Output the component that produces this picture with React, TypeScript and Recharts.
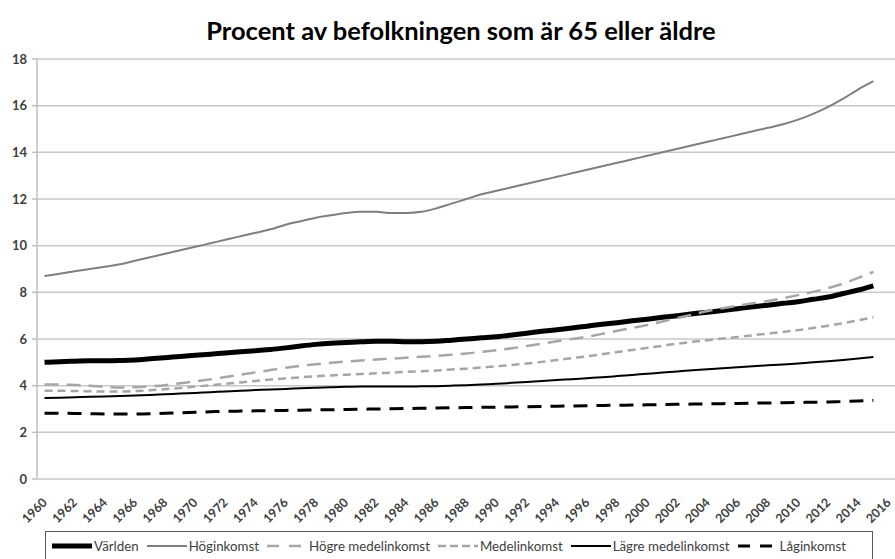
import { LineChart, Line, XAxis, YAxis, CartesianGrid } from 'recharts'

const years = [
  1960, 1961, 1962, 1963, 1964, 1965, 1966, 1967, 1968, 1969,
  1970, 1971, 1972, 1973, 1974, 1975, 1976, 1977, 1978, 1979,
  1980, 1981, 1982, 1983, 1984, 1985, 1986, 1987, 1988, 1989,
  1990, 1991, 1992, 1993, 1994, 1995, 1996, 1997, 1998, 1999,
  2000, 2001, 2002, 2003, 2004, 2005, 2006, 2007, 2008, 2009,
  2010, 2011, 2012, 2013, 2014, 2015, 2016,
]

const yearLabels = [
  1960, 1962, 1964, 1966, 1968, 1970, 1972, 1974, 1976, 1978, 1980, 1982, 1984, 1986,
  1988, 1990, 1992, 1994, 1996, 1998, 2000, 2002, 2004, 2006, 2008, 2010, 2012, 2014, 2016,
]

const yTicks = [0, 2, 4, 6, 8, 10, 12, 14, 16, 18]

// 1960-2015, no value for 2016
const varlden = [
  5.0, 5.03, 5.05, 5.07, 5.07, 5.08, 5.1, 5.15, 5.2, 5.25,
  5.3, 5.35, 5.4, 5.45, 5.5, 5.55, 5.62, 5.7, 5.77, 5.82,
  5.85, 5.88, 5.9, 5.9, 5.88, 5.88, 5.9, 5.95, 6.0, 6.05,
  6.1, 6.17, 6.25, 6.33, 6.4, 6.47, 6.55, 6.63, 6.7, 6.78,
  6.85, 6.93, 7.0, 7.08, 7.15, 7.22, 7.3, 7.38, 7.45, 7.53,
  7.6, 7.7, 7.8, 7.95, 8.1, 8.28,
]
const hoginkomst = [
  8.7, 8.8, 8.9, 9.0, 9.1, 9.2, 9.35, 9.5, 9.65, 9.8,
  9.95, 10.1, 10.25, 10.4, 10.55, 10.7, 10.9, 11.05, 11.2, 11.3,
  11.4, 11.45, 11.45, 11.4, 11.4, 11.45, 11.6, 11.8, 12.0, 12.2,
  12.35, 12.5, 12.65, 12.8, 12.95, 13.1, 13.25, 13.4, 13.55, 13.7,
  13.85, 14.0, 14.15, 14.3, 14.45, 14.6, 14.75, 14.9, 15.05, 15.2,
  15.4, 15.65, 15.95, 16.3, 16.7, 17.05,
]
const hogreMedel = [
  4.05, 4.05, 4.03, 4.0, 3.95, 3.92, 3.93, 3.97, 4.02, 4.1,
  4.18, 4.27, 4.37, 4.47, 4.57, 4.67, 4.77, 4.85, 4.92, 4.98,
  5.03, 5.08, 5.12, 5.16, 5.2, 5.24, 5.28, 5.33, 5.38, 5.45,
  5.52, 5.6, 5.7, 5.8, 5.9, 6.0, 6.1, 6.22, 6.35, 6.48,
  6.6, 6.75, 6.9, 7.05, 7.2, 7.32, 7.43, 7.53, 7.63, 7.75,
  7.88, 8.02, 8.18, 8.38, 8.62, 8.88,
]
const medel = [
  3.78, 3.78, 3.77, 3.76, 3.75, 3.75, 3.77, 3.8, 3.85, 3.9,
  3.96, 4.02, 4.08, 4.14, 4.2, 4.26, 4.31, 4.36, 4.4, 4.44,
  4.47, 4.5, 4.53, 4.56, 4.59, 4.62, 4.65, 4.69, 4.73, 4.78,
  4.83, 4.89, 4.95, 5.02, 5.1, 5.18, 5.26, 5.35, 5.44, 5.53,
  5.62, 5.71, 5.8, 5.88, 5.95, 6.02, 6.09, 6.16, 6.23, 6.3,
  6.38, 6.47, 6.57, 6.68, 6.8, 6.93,
]
const lagreMedel = [
  3.47, 3.48, 3.5, 3.52, 3.54, 3.56, 3.58, 3.6, 3.63, 3.66,
  3.69, 3.72, 3.75, 3.78, 3.81, 3.84, 3.86, 3.89, 3.91, 3.93,
  3.95, 3.96, 3.96, 3.96, 3.96, 3.97, 3.98, 4.0, 4.02, 4.05,
  4.08, 4.12, 4.16, 4.2, 4.24, 4.28, 4.32, 4.36, 4.41, 4.46,
  4.51, 4.56, 4.61, 4.66, 4.7, 4.75, 4.79, 4.83, 4.87, 4.91,
  4.95, 5.0, 5.05, 5.1, 5.16, 5.23,
]
const laginkomst = [
  2.82, 2.82, 2.81, 2.8, 2.79, 2.79, 2.79, 2.8, 2.82, 2.84,
  2.86, 2.88, 2.9, 2.91, 2.92, 2.93, 2.94, 2.95, 2.96, 2.97,
  2.98, 2.99, 3.0, 3.01, 3.02, 3.03, 3.04, 3.05, 3.06, 3.07,
  3.08, 3.09, 3.1, 3.11, 3.12, 3.13, 3.14, 3.15, 3.16, 3.17,
  3.18, 3.19, 3.2, 3.21, 3.22, 3.23, 3.24, 3.25, 3.26, 3.27,
  3.28, 3.29, 3.3, 3.32, 3.34, 3.37,
]

const SERIES = [
  { key: 'varlden', name: 'Världen', values: varlden, color: '#000', width: 5, dash: undefined, legendDash: undefined },
  { key: 'hog', name: 'Höginkomst', values: hoginkomst, color: '#7f7f7f', width: 2, dash: undefined, legendDash: undefined },
  { key: 'hogreMedel', name: 'Högre medelinkomst', values: hogreMedel, color: '#a6a6a6', width: 2.5, dash: '14 8', legendDash: '12 10' },
  { key: 'medel', name: 'Medelinkomst', values: medel, color: '#a6a6a6', width: 2.5, dash: '8 5', legendDash: '8 4' },
  { key: 'lagreMedel', name: 'Lägre medelinkomst', values: lagreMedel, color: '#000', width: 2, dash: undefined, legendDash: undefined },
  { key: 'lag', name: 'Låginkomst', values: laginkomst, color: '#000', width: 3, dash: '14 9', legendDash: '12 10' },
]

const rows = years.map((year, i) => {
  const r: any = { year }
  SERIES.forEach(s => { r[s.key] = s.values[i] ?? null })
  return r
})

// year boundaries for the small tick marks (between categories)
const boundaries = years.map(y => y - 0.5).concat([years[years.length - 1] + 0.5])

const YearTick = ({ x, y, payload }: any) => (
  <text
    x={x + 1}
    y={y + 14}
    transform={`rotate(-45, ${x + 1}, ${y + 14})`}
    textAnchor="end"
    dominantBaseline="middle"
    fontSize={12.5}
    fontWeight={700}
    fill="#404040"
  >
    {payload.value}
  </text>
)

const Legend = () => (
  <div style={{
    position: 'absolute', left: 45, top: 531, width: 828, height: 30,
    border: '1.5px solid #595959', boxSizing: 'border-box',
    display: 'flex', alignItems: 'center', paddingLeft: 6, gap: 8,
    fontSize: 13.3, color: '#404040', whiteSpace: 'nowrap',
  }}>
    {SERIES.map(s => (
      <div key={s.key} style={{ display: 'flex', alignItems: 'center' }}>
        <svg width={40} height={10}>
          <line x1={0} y1={5} x2={40} y2={5} stroke={s.color} strokeWidth={s.width} strokeDasharray={s.legendDash} />
        </svg>
        <span style={{ marginLeft: 2 }}>{s.name}</span>
      </div>
    ))}
  </div>
)

export default function App() {
  return (
    <div style={{
      position: 'absolute', left: 0, top: 0, width: 895, height: 559,
      overflow: 'hidden', background: '#fff', fontFamily: 'Lato, "Open Sans", sans-serif',
    }}>
      <div style={{
        position: 'absolute', left: 0, top: 15, width: 922, textAlign: 'center',
        fontSize: 25.5, fontWeight: 700, color: '#000', lineHeight: '30px',
      }}>
        Procent av befolkningen som är 65 eller äldre
      </div>
      <LineChart width={900} height={559} data={rows} margin={{ top: 59, right: 4, left: 0, bottom: 30 }}>
        <CartesianGrid vertical={false} stroke="#c8c8c8" strokeWidth={1.5} />
        <XAxis
          xAxisId="b"
          type="number"
          dataKey="year"
          domain={[1959.5, 2016.5]}
          ticks={boundaries}
          interval={0}
          tick={false}
          tickSize={5}
          height={0}
          stroke="#bfbfbf"
          strokeWidth={1.5}
        />
        <XAxis
          xAxisId="l"
          type="number"
          dataKey="year"
          domain={[1959.5, 2016.5]}
          ticks={yearLabels}
          interval={0}
          axisLine={false}
          tickLine={false}
          tick={<YearTick />}
          height={50}
        />
        <YAxis
          domain={[0, 18]}
          ticks={yTicks}
          interval={0}
          width={37}
          tickSize={5}
          tickMargin={5}
          stroke="#bfbfbf"
          strokeWidth={1.5}
          tick={{ fontSize: 13, fontWeight: 700, fill: '#404040' }}
        />
        {SERIES.map(s => (
          <Line
            key={s.key}
            xAxisId="b"
            type="monotone"
            dataKey={s.key}
            name={s.name}
            stroke={s.color}
            strokeWidth={s.width}
            strokeDasharray={s.dash}
            dot={false}
            isAnimationActive={false}
          />
        ))}
      </LineChart>
      <Legend />
    </div>
  )
}
